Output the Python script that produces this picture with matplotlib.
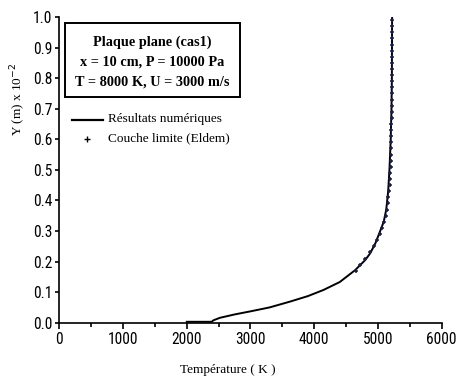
import matplotlib
matplotlib.use("Agg")
import matplotlib.pyplot as plt
from matplotlib import font_manager
from matplotlib.ticker import MultipleLocator, FormatStrFormatter
from matplotlib.patches import Rectangle

# Numerical solution: temperature (K) vs wall distance Y (m x 1e-2)
num_T = [2000, 2390, 2420, 2520, 2750, 3020, 3300, 3620, 3900, 4144, 4400,
         4642, 4800, 4878, 4960, 5035, 5090, 5130, 5160, 5180, 5200, 5212,
         5218, 5220, 5222]
num_Y = [0.003, 0.003, 0.008, 0.016, 0.027, 0.038, 0.050, 0.069, 0.087, 0.107,
         0.133, 0.172, 0.205, 0.227, 0.260, 0.300, 0.330, 0.370, 0.430, 0.500,
         0.600, 0.700, 0.800, 0.900, 1.000]

# Boundary-layer reference solution (Eldem)
eldem_T = [4650, 4720, 4800, 4880, 4940, 4990, 5030, 5070, 5100, 5125, 5140,
           5155, 5165, 5175, 5182, 5188, 5193, 5198, 5201, 5204, 5206, 5208,
           5210, 5211, 5212, 5213, 5214, 5215, 5216, 5216, 5217, 5217, 5218,
           5218, 5218, 5219, 5219, 5219, 5219, 5219, 5220, 5220]
eldem_Y = [0.17, 0.19, 0.21, 0.23, 0.25, 0.27, 0.29, 0.31, 0.33, 0.35, 0.37,
           0.39, 0.41, 0.43, 0.45, 0.47, 0.49, 0.51, 0.53, 0.55, 0.57, 0.59,
           0.61, 0.63, 0.65, 0.67, 0.69, 0.71, 0.73, 0.75, 0.77, 0.79, 0.81,
           0.83, 0.85, 0.87, 0.89, 0.91, 0.93, 0.95, 0.97, 0.99]

box_lines = ["Plaque plane (cas1)", "x = 10 cm, P = 10000 Pa",
             "T = 8000 K, U = 3000 m/s"]
legend_labels = ["Résultats numériques", "Couche limite (Eldem)"]

# Pick a narrow sans face for the tick labels if one is installed
_fonts = font_manager.fontManager.ttflist
_names = {f.name for f in _fonts}
tick_font = dict(family="Liberation Sans", size=10.5, stretch="normal")
if "Liberation Sans Narrow" in _names:
    tick_font = dict(family="Liberation Sans Narrow", size=12.5, stretch="normal")
elif "Roboto Condensed" in _names:
    tick_font = dict(family="Roboto Condensed", size=11.2, stretch="normal")
elif any(f.name == "DejaVu Sans" and f.stretch == "condensed" for f in _fonts):
    tick_font = dict(family="DejaVu Sans", size=11, stretch="condensed")

W, H = 458, 382
fig = plt.figure(figsize=(W / 100, H / 100), dpi=100)
ax = fig.add_axes([59.3 / W, 1 - 322.7 / H, (441.7 - 59.3) / W, (322.7 - 17) / H])

serif = ["Liberation Serif", "DejaVu Serif"]

ax.plot(num_T, num_Y, color="black", lw=1.4, zorder=3)
ax.plot(eldem_T, eldem_Y, ls="none", marker="+", ms=3.5, mew=1.1,
        color="#1c1c4a", zorder=4)

ax.set_xlim(0, 6000)
ax.set_ylim(0, 1.0)
for s in ("top", "right"):
    ax.spines[s].set_visible(False)
for s in ("left", "bottom"):
    ax.spines[s].set_linewidth(1.2)

ax.xaxis.set_major_locator(MultipleLocator(1000))
ax.xaxis.set_minor_locator(MultipleLocator(500))
ax.yaxis.set_major_locator(MultipleLocator(0.1))
ax.yaxis.set_major_formatter(FormatStrFormatter("%.1f"))
ax.tick_params(axis="x", which="major", direction="out", length=4, width=1.2, pad=3)
ax.tick_params(axis="x", which="minor", direction="out", length=3, width=1.2)
ax.tick_params(axis="y", which="major", direction="out", length=3, width=1.2, pad=2)
for lab in ax.get_xticklabels() + ax.get_yticklabels():
    lab.set_fontfamily(tick_font["family"])
    lab.set_fontsize(tick_font["size"])
    lab.set_fontstretch(tick_font["stretch"])

# Case description box
ax.add_patch(Rectangle((65 / W, 1 - 97 / H), (240 - 65) / W, (97 - 23) / H,
                       transform=fig.transFigure, fill=False, lw=1.4,
                       edgecolor="black", zorder=5))
for i, line in enumerate(box_lines):
    fig.text(152 / W, 1 - (42 + 20 * i) / H, line, ha="center", va="center",
             family=serif, fontweight="bold", fontsize=10.3)

# Legend drawn by hand
fig.add_artist(plt.Line2D([72 / W, 103 / W], [1 - 120 / H, 1 - 120 / H],
                          transform=fig.transFigure, color="black", lw=1.6))
fig.add_artist(plt.Line2D([87 / W], [1 - 139 / H], transform=fig.transFigure,
                          ls="none", marker="+", ms=4, mew=1.0, color="black"))
fig.text(108 / W, 1 - 119 / H, legend_labels[0], ha="left", va="center",
         family=serif, fontsize=9.5)
fig.text(108 / W, 1 - 138 / H, legend_labels[1], ha="left", va="center",
         family=serif, fontsize=9.5)

fig.text(228 / W, 1 - 370 / H, "Température ( K )", ha="center", va="center",
         family=serif, fontsize=9.5)
fig.text(18 / W, 1 - 99 / H, r"Y (m) x 10$^{-2}$", ha="center", va="center",
         rotation=90, family=serif, fontsize=9.5)

fig.savefig("out.png", dpi=100, facecolor="white")
